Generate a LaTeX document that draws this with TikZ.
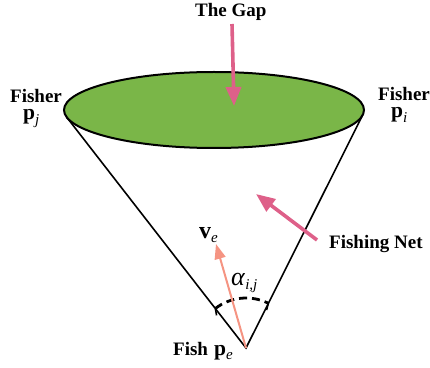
\documentclass[tikz,border=0pt]{standalone}
\usepackage{fontspec}
\setmainfont{Liberation Serif}
\usetikzlibrary{arrows.meta,calc,shapes.geometric}
\definecolor{netgreen}{HTML}{7AB648}
\definecolor{arrowpink}{HTML}{DE6089}
\definecolor{vsalmon}{HTML}{F59482}
\newcommand\mysub[1]{\raisebox{-4.5pt}{\fontsize{15}{15}\selectfont\itshape #1}}
\tikzset{
  lbl/.style={font=\fontsize{19}{21}\selectfont\bfseries, inner sep=0pt, anchor=base west},
  mlbl/.style={font=\fontsize{21.5}{23}\selectfont, inner sep=0pt, anchor=base west, text height=11pt, text depth=8pt},
  pinkarrow/.style={draw=arrowpink, line width=3.6pt, -{Triangle[length=19pt,width=15pt]}},
  conel/.style={line width=1.6pt, black},
  varrow/.style={draw=vsalmon, line width=2pt, -{Triangle[length=15pt,width=11pt]}},
}
\begin{document}
\begin{tikzpicture}[x=1pt,y=1pt]
\useasboundingbox (0,0) rectangle (430,367);
% cone
\coordinate (pe) at (246,19);
\coordinate (tj) at (66.8,249.7);
\coordinate (ti) at (362.8,252.2);
\draw[conel] (tj) -- (pe) -- (ti);
% gap ellipse
\node[draw=black, line width=2pt, fill=netgreen, ellipse, minimum width=300pt, minimum height=76pt, inner sep=0pt] (gap) at (214,257) {};
% angle arc
\draw[line width=2.8pt, dash pattern=on 8pt off 5pt] ($(pe)+(127.8:50)$) coordinate (a1) arc[start angle=127.8, end angle=63.4, radius=50pt] coordinate (a2);
\draw[line width=1.6pt] (a1) -- ++(-80:7);
\draw[line width=1.6pt] (a2) -- ++(-105:7);
% velocity arrow
\coordinate (vend) at (216,123);
\draw[varrow] (pe) -- (vend);
\node[mlbl] (ve) at (199,129) {{\fontsize{24}{24}\selectfont\textbf{v}}\mysub{e}};
\node[mlbl] (alpha) at (231,82) {{\fontsize{26}{26}\selectfont\textit{α}}\mysub{i,j}};
% labels
\node[lbl] (thegap) at (195,350) {The Gap};
\coordinate (gapS) at (232,343);
\coordinate (gapE) at (234,261);
\draw[pinkarrow] (gapS) -- (gapE);
\node[lbl] (fnet) at (329,119) {Fishing Net};
\coordinate (netS) at (317,127);
\coordinate (netE) at (256,173);
\draw[pinkarrow] (netS) -- (netE);
\node[lbl] (fisherj) at (10,264) {Fisher};
\node[mlbl] (pj) at (23,247) {\textbf{p}\mysub{j}};
\node[lbl] (fisheri) at (378,266) {Fisher};
\node[mlbl] (pi) at (391,249) {\textbf{p}\mysub{i}};
\node[lbl] (fish) at (173,12) {Fish};
\node[mlbl] (pel) at (214,12) {\textbf{p}\mysub{e}};
\end{tikzpicture}
\end{document}
